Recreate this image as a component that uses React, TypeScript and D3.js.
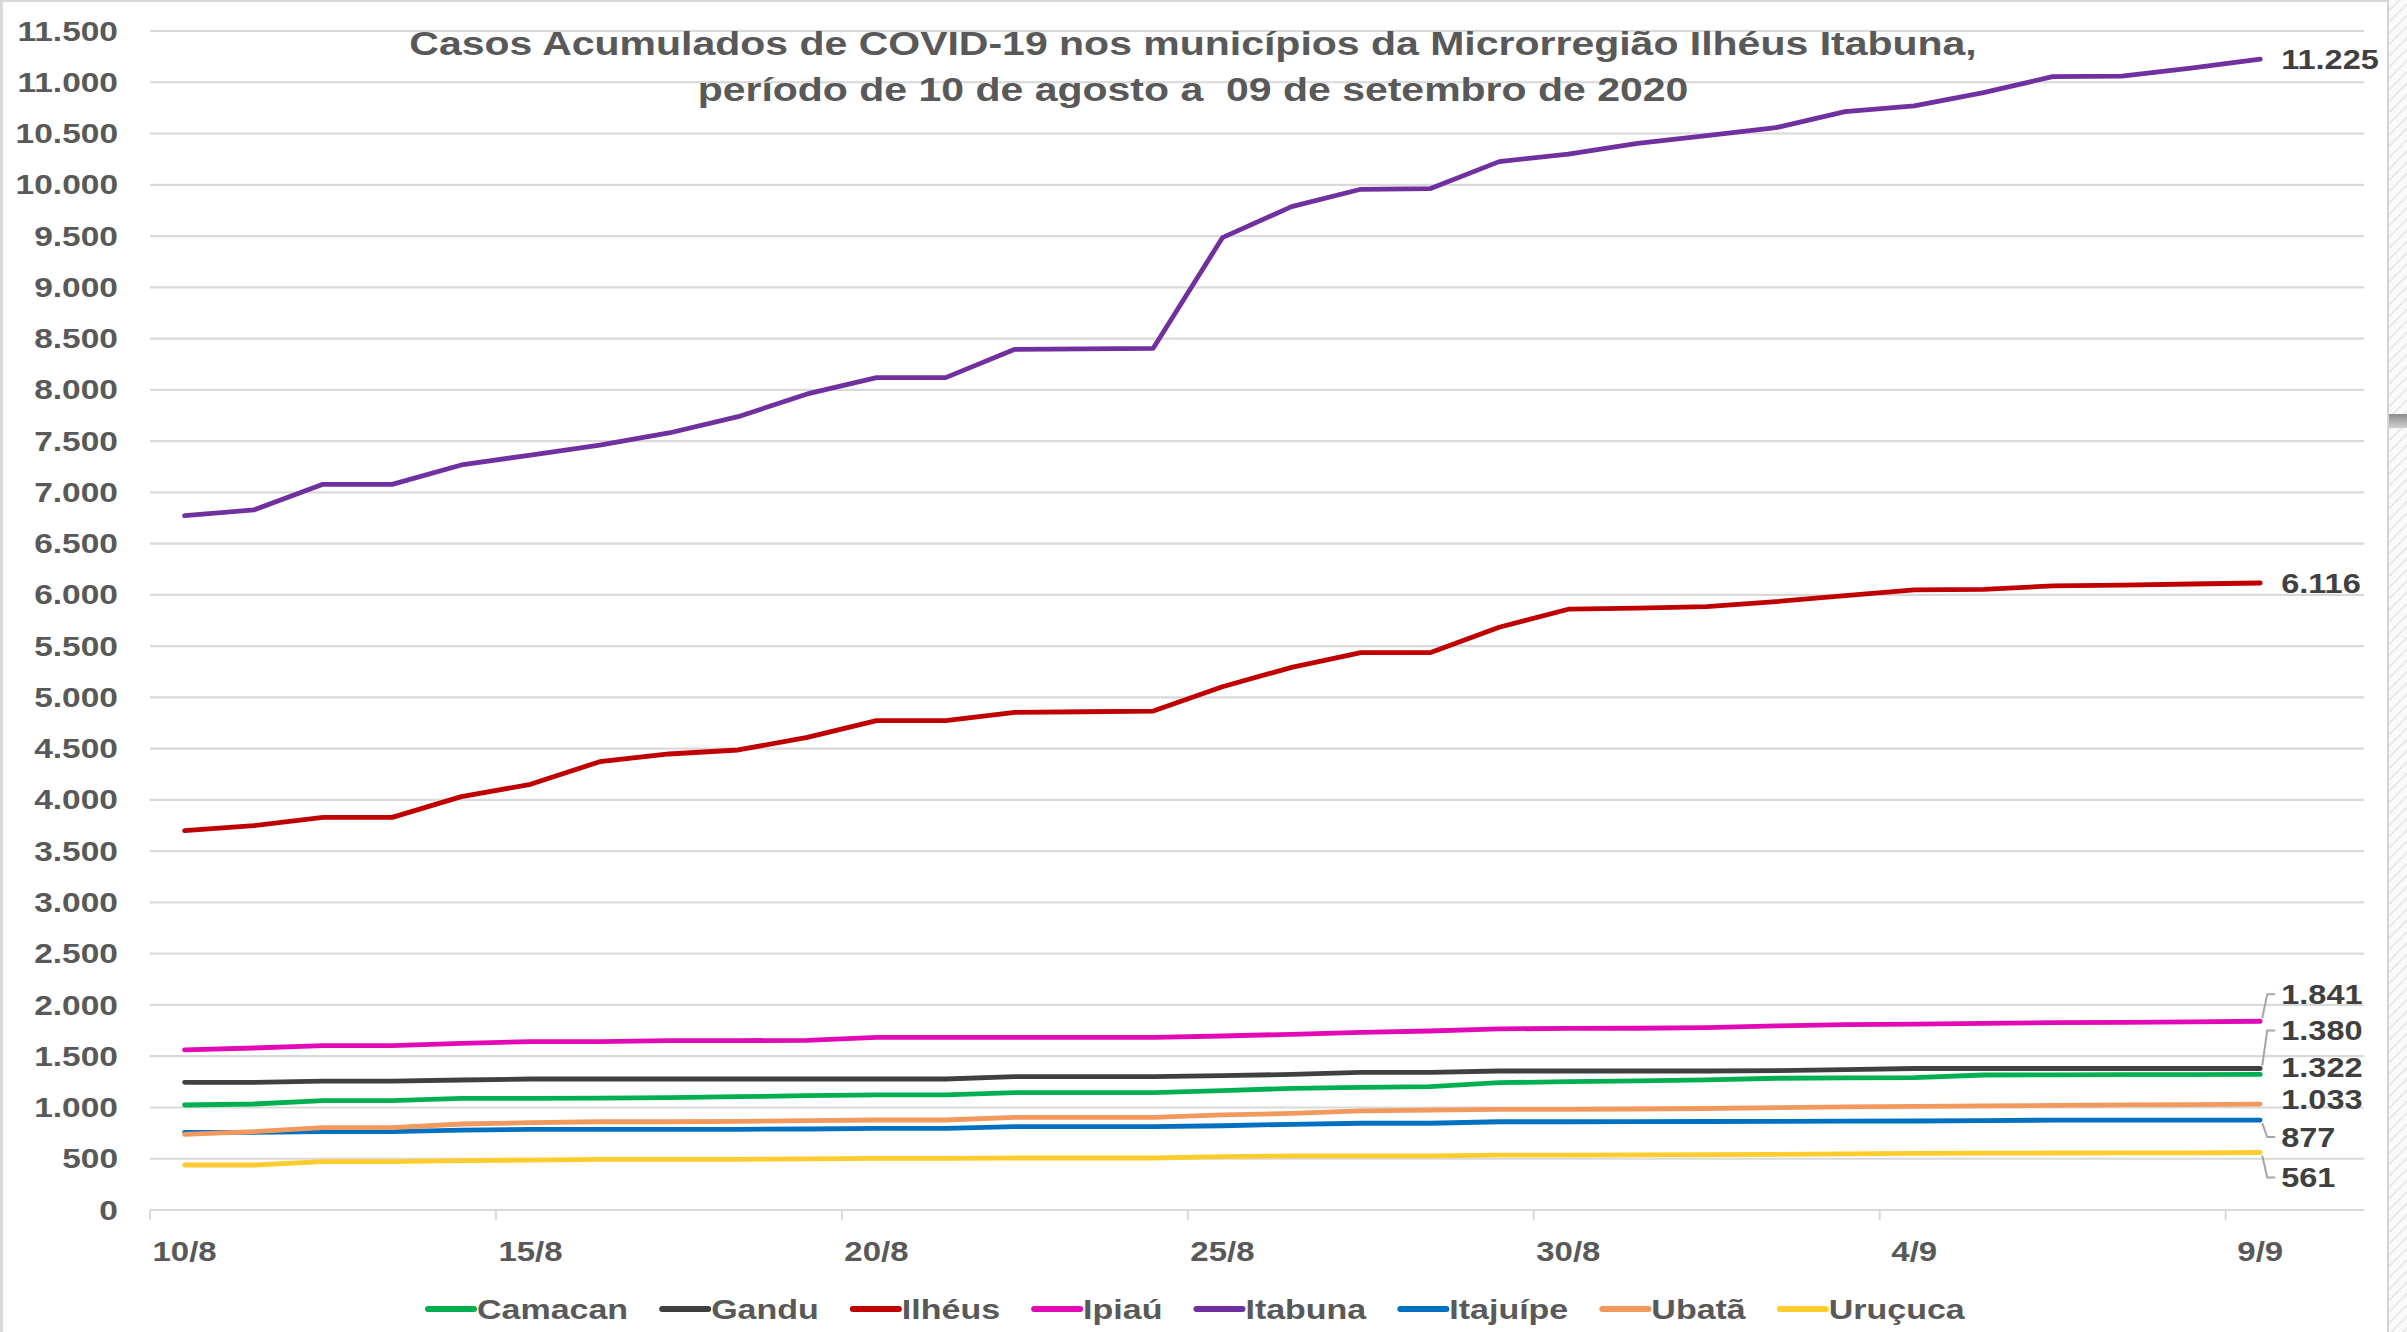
import * as d3 from "d3";
import { useMemo } from "react";

const W = 2407;
const H = 1332;

// categories: daily from 10/8 to 9/9 (axis keeps one empty slot at the end)
const dates = [
  "10/8", "11/8", "12/8", "13/8", "14/8", "15/8", "16/8", "17/8", "18/8", "19/8",
  "20/8", "21/8", "22/8", "23/8", "24/8", "25/8", "26/8", "27/8", "28/8", "29/8",
  "30/8", "31/8", "1/9", "2/9", "3/9", "4/9", "5/9", "6/9", "7/9", "8/9", "9/9",
];
const axisSlots = 32;

const camacan = [1024, 1034, 1066, 1066, 1089, 1089, 1092, 1096, 1105, 1115, 1122, 1122, 1144, 1144, 1144, 1164, 1187, 1197, 1203, 1242, 1252, 1260, 1270, 1285, 1288, 1291, 1317, 1318, 1320, 1321, 1322];
const gandu = [1245, 1245, 1258, 1258, 1268, 1278, 1278, 1278, 1278, 1278, 1278, 1278, 1301, 1301, 1301, 1310, 1323, 1343, 1343, 1356, 1356, 1356, 1356, 1360, 1370, 1380, 1380, 1380, 1380, 1380, 1380];
const ilheus = [3700, 3749, 3830, 3830, 4032, 4152, 4373, 4448, 4487, 4610, 4773, 4773, 4854, 4860, 4867, 5104, 5293, 5436, 5436, 5684, 5860, 5870, 5885, 5934, 5992, 6048, 6054, 6087, 6096, 6106, 6116];
const ipiau = [1561, 1580, 1603, 1603, 1626, 1642, 1642, 1652, 1652, 1655, 1684, 1684, 1684, 1684, 1684, 1697, 1714, 1733, 1746, 1766, 1772, 1773, 1778, 1795, 1808, 1814, 1821, 1827, 1830, 1834, 1841];
const itabuna = [6772, 6828, 7078, 7078, 7267, 7364, 7460, 7579, 7738, 7960, 8119, 8119, 8395, 8400, 8405, 9484, 9787, 9956, 9962, 10226, 10300, 10404, 10480, 10557, 10713, 10769, 10899, 11055, 11060, 11138, 11225];
const itajuipe = [758, 758, 764, 764, 780, 787, 787, 787, 787, 790, 797, 797, 813, 813, 813, 822, 836, 846, 846, 861, 861, 862, 863, 864, 866, 868, 872, 877, 877, 877, 877];
const ubata = [738, 764, 803, 803, 839, 852, 861, 861, 864, 871, 878, 878, 904, 904, 904, 927, 943, 966, 975, 981, 981, 985, 990, 998, 1005, 1010, 1015, 1020, 1025, 1028, 1033];
const urucuca = [439, 439, 471, 471, 481, 487, 494, 494, 494, 498, 504, 504, 507, 507, 507, 520, 527, 527, 527, 536, 536, 538, 540, 543, 548, 553, 555, 556, 557, 558, 561];

const yTicks = d3.range(0, 11501, 500);
const xTickEvery = 5;

const series = [
  { name: "Camacan", color: "#00B050", values: camacan },
  { name: "Gandu", color: "#404040", values: gandu },
  { name: "Ilhéus", color: "#C00000", values: ilheus },
  { name: "Ipiaú", color: "#E20AB6", values: ipiau },
  { name: "Itabuna", color: "#7030A0", values: itabuna },
  { name: "Itajuípe", color: "#0070C0", values: itajuipe },
  { name: "Ubatã", color: "#F2995E", values: ubata },
  { name: "Uruçuca", color: "#FFCC2E", values: urucuca },
];

// vertical nudge of the end labels, so they do not collide
const labelShift: Record<string, number> = {
  Camacan: -7, Gandu: -38, Ilhéus: 0, Ipiaú: -27, Itabuna: 0, Itajuípe: 17, Ubatã: -5, Uruçuca: 25,
};

const ptBR = d3.formatLocale({ decimal: ",", thousands: ".", grouping: [3], currency: ["R$", ""] });
const fmt = ptBR.format(",d");

const FONT = "'Liberation Sans', Arial, sans-serif";
const SQ = 0.84; // the source glyphs are a bit flattened

const SText = ({ x, y, size, fill, anchor = "start", sq = SQ, children }: any) => (
  <text
    transform={`translate(${x},${y}) scale(1,${sq})`}
    fontSize={size}
    fontWeight="bold"
    fill={fill}
    textAnchor={anchor}
    dominantBaseline="central"
    style={{ whiteSpace: "pre" }}
  >
    {children}
  </text>
);

export default function App() {
  const margin = { left: 150, right: 2364, top: 31, bottom: 1210 };

  const x = useMemo(
    () => d3.scaleLinear().domain([0, axisSlots]).range([margin.left, margin.right]),
    []
  );
  const y = useMemo(
    () => d3.scaleLinear().domain([0, 11500]).range([margin.bottom, margin.top]),
    []
  );
  const line = d3
    .line<number>()
    .x((_, i) => x(i + 0.5))
    .y((d) => y(d));

  const legendSize = 34;
  const legend = useMemo(() => {
    const ctx = document.createElement("canvas").getContext("2d")!;
    ctx.font = `bold ${legendSize}px ${FONT}`;
    let cx = 428;
    return series.map((s) => {
      const item = { ...s, x: cx };
      cx += 46 + 3 + ctx.measureText(s.name).width + 34;
      return item;
    });
  }, []);

  const last = dates.length - 1;

  return (
    <svg
      width={W}
      height={H}
      style={{ position: "absolute", left: 0, top: 0, background: "#fff", fontFamily: FONT }}
    >
      <defs>
        <pattern id="hatch" width="8" height="8" patternUnits="userSpaceOnUse" patternTransform="rotate(45)">
          <rect width="8" height="8" fill="#fafafa" />
          <line x1="0" y1="0" x2="0" y2="8" stroke="#e4e4e4" strokeWidth="3" />
        </pattern>
        <linearGradient id="grip" x1="0" y1="0" x2="0" y2="1">
          <stop offset="0" stopColor="#8c8c8c" />
          <stop offset="1" stopColor="#d0d0d0" />
        </linearGradient>
      </defs>

      <rect x={0} y={0} width={W} height={H} fill="#fff" />
      {/* frame */}
      <line x1={1.5} y1={0} x2={1.5} y2={H} stroke="#d9d9d9" strokeWidth={3} />
      <line x1={0} y1={1} x2={2387} y2={1} stroke="#d9d9d9" strokeWidth={2} />
      <rect x={2387} y={0} width={W - 2387} height={H} fill="url(#hatch)" />
      <line x1={2388} y1={0} x2={2388} y2={H} stroke="#d4d4d4" strokeWidth={2} />
      <rect x={2389} y={414} width={W - 2389} height={14} fill="url(#grip)" />

      {/* gridlines */}
      {yTicks.map((t) => (
        <line key={t} x1={margin.left} x2={margin.right} y1={y(t)} y2={y(t)} stroke="#d9d9d9" strokeWidth={2.2} />
      ))}
      {/* x ticks */}
      {dates.map((d, i) =>
        i % xTickEvery === 0 ? (
          <line key={d} x1={x(i)} x2={x(i)} y1={margin.bottom} y2={margin.bottom + 10} stroke="#d9d9d9" strokeWidth={2} />
        ) : null
      )}

      {/* y labels */}
      {yTicks.map((t) => (
        <SText key={t} x={118} y={y(t)} size={33.5} fill="#595959" anchor="end">
          {fmt(t)}
        </SText>
      ))}
      {/* x labels */}
      {dates.map((d, i) =>
        i % xTickEvery === 0 ? (
          <SText key={d} x={x(i + 0.5)} y={1251} size={33} fill="#595959" anchor="middle">
            {d}
          </SText>
        ) : null
      )}

      {/* series */}
      {series.map((s) => (
        <path
          key={s.name}
          d={line(s.values) || ""}
          fill="none"
          stroke={s.color}
          strokeWidth={4.8}
          strokeLinejoin="round"
          strokeLinecap="round"
        />
      ))}

      {/* end labels with leader lines */}
      {series.map((s) => {
        const px = x(last + 0.5);
        const py = y(s.values[last]);
        const dy = labelShift[s.name];
        const lx = px + 21;
        const ly = py + dy;
        return (
          <g key={s.name}>
            {Math.abs(dy) > 12 && (
              <polyline
                points={`${px + 2},${py + (dy < 0 ? -3 : 3)} ${px + 7},${ly} ${lx - 6},${ly}`}
                fill="none"
                stroke="#a6a6a6"
                strokeWidth={2}
              />
            )}
            <SText x={lx} y={ly} size={32.5} fill="#404040">
              {fmt(s.values[last])}
            </SText>
          </g>
        );
      })}

      {/* title */}
      <SText x={1193} y={44} size={41} sq={0.8} fill="#595959" anchor="middle">
        Casos Acumulados de COVID-19 nos municípios da Microrregião Ilhéus Itabuna,
      </SText>
      <SText x={1193} y={90} size={41} sq={0.8} fill="#595959" anchor="middle">
        período de 10 de agosto a  09 de setembro de 2020
      </SText>

      {/* legend */}
      {legend.map((l) => (
        <g key={l.name}>
          <line x1={l.x} x2={l.x + 46} y1={1309} y2={1309} stroke={l.color} strokeWidth={6} strokeLinecap="round" />
          <SText x={l.x + 49} y={1309} size={legendSize} fill="#595959">
            {l.name}
          </SText>
        </g>
      ))}
    </svg>
  );
}
